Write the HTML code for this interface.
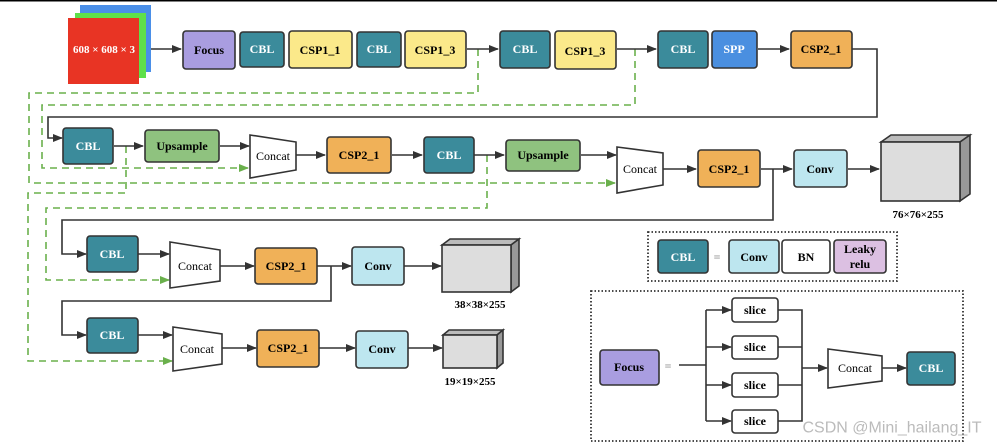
<!DOCTYPE html>
<html><head><meta charset="utf-8"><style>
html,body{margin:0;padding:0;background:#fff;}
svg{display:block;}
text{font-family:"Liberation Serif",serif;font-weight:bold;font-size:12px;text-anchor:middle;dominant-baseline:central;}
.w{fill:#fff}
.n{font-weight:normal}
</style></head><body>
<svg width="997" height="448" viewBox="0 0 997 448" xmlns="http://www.w3.org/2000/svg">
<defs>
<marker id="a" markerWidth="10" markerHeight="8" refX="9" refY="4" orient="auto" markerUnits="userSpaceOnUse"><path d="M0,0 L10,4 L0,8 z" fill="#333"/></marker>
<marker id="g" markerWidth="10" markerHeight="8" refX="9" refY="4" orient="auto" markerUnits="userSpaceOnUse"><path d="M0,0 L10,4 L0,8 z" fill="#6ab04c"/></marker>
</defs>
<line x1="0" y1="0.5" x2="997" y2="0.5" stroke="#000" stroke-width="2"/>
<g fill="none" stroke="#6ab04c" stroke-width="1.6" stroke-dasharray="7,5">
<polyline points="478,49 478,93 29,93 29,183 615,183" marker-end="url(#g)"/>
<polyline points="635,49 635,105 42,105 42,168 248,168" marker-end="url(#g)"/>
<polyline points="126,146 126,193 28,193 28,361 172,361" marker-end="url(#g)"/>
<polyline points="487,155 487,208 46,208 46,280 169,280" marker-end="url(#g)"/>
</g>
<g fill="none" stroke="#333" stroke-width="1.6">
<line x1="151" y1="49" x2="181" y2="49" marker-end="url(#a)"/>
<line x1="467" y1="49" x2="498" y2="49" marker-end="url(#a)"/>
<line x1="617" y1="49" x2="656" y2="49" marker-end="url(#a)"/>
<line x1="758" y1="49" x2="789" y2="49" marker-end="url(#a)"/>
<polyline points="852,49 877,49 877,117 48,117 48,138 62,138" marker-end="url(#a)"/>
<line x1="114" y1="146" x2="143" y2="146" marker-end="url(#a)"/>
<line x1="220" y1="146" x2="249" y2="146" marker-end="url(#a)"/>
<line x1="296" y1="155" x2="325" y2="155" marker-end="url(#a)"/>
<line x1="392" y1="155" x2="422" y2="155" marker-end="url(#a)"/>
<line x1="474" y1="155" x2="504" y2="155" marker-end="url(#a)"/>
<line x1="581" y1="155" x2="616" y2="155" marker-end="url(#a)"/>
<line x1="663" y1="169" x2="696" y2="169" marker-end="url(#a)"/>
<line x1="761" y1="169" x2="792" y2="169" marker-end="url(#a)"/>
<line x1="848" y1="169" x2="879" y2="169" marker-end="url(#a)"/>
<polyline points="773,169 773,220 62,220 62,254 86,254" marker-end="url(#a)"/>
<line x1="138" y1="254" x2="169" y2="254" marker-end="url(#a)"/>
<line x1="220" y1="266" x2="254" y2="266" marker-end="url(#a)"/>
<line x1="317" y1="266" x2="351" y2="266" marker-end="url(#a)"/>
<line x1="404" y1="266" x2="441" y2="266" marker-end="url(#a)"/>
<polyline points="331,266 331,301 62,301 62,335 86,335" marker-end="url(#a)"/>
<line x1="138" y1="335" x2="172" y2="335" marker-end="url(#a)"/>
<line x1="222" y1="348" x2="256" y2="348" marker-end="url(#a)"/>
<line x1="319" y1="348" x2="355" y2="348" marker-end="url(#a)"/>
<line x1="408" y1="348" x2="442" y2="348" marker-end="url(#a)"/>
<line x1="679" y1="365" x2="706" y2="365"/>
<line x1="706" y1="310" x2="706" y2="421"/>
<line x1="706" y1="310" x2="731" y2="310" marker-end="url(#a)"/>
<line x1="706" y1="347" x2="731" y2="347" marker-end="url(#a)"/>
<line x1="706" y1="385" x2="731" y2="385" marker-end="url(#a)"/>
<line x1="706" y1="421" x2="731" y2="421" marker-end="url(#a)"/>
<polyline points="778,310 802,310 802,421 778,421"/>
<line x1="778" y1="347" x2="802" y2="347"/>
<line x1="778" y1="385" x2="802" y2="385"/>
<line x1="802" y1="368" x2="827" y2="368" marker-end="url(#a)"/>
<line x1="882" y1="368" x2="906" y2="368" marker-end="url(#a)"/>
</g>
<rect x="80" y="5" width="71" height="67" fill="#4a8fe8"/>
<rect x="75" y="13" width="71" height="65" fill="#5fe04a"/>
<rect x="68" y="18" width="71" height="66" fill="#e83424"/>
<text x="104" y="50" class="w" style="font-size:11px">608 × 608 × 3</text>
<g stroke="#333" stroke-width="1.6">
<rect x="183" y="31" width="52" height="38" rx="3" fill="#a99de0"/>
<rect x="240" y="32" width="44" height="35" rx="3" fill="#3b8b9b"/>
<rect x="289" y="31" width="63" height="37" rx="3" fill="#fbe98a"/>
<rect x="357" y="32" width="44" height="35" rx="3" fill="#3b8b9b"/>
<rect x="405" y="31" width="61" height="37" rx="3" fill="#fbe98a"/>
<rect x="500" y="31" width="50" height="37" rx="3" fill="#3b8b9b"/>
<rect x="555" y="31" width="61" height="38" rx="3" fill="#fbe98a"/>
<rect x="658" y="31" width="50" height="37" rx="3" fill="#3b8b9b"/>
<rect x="712" y="31" width="45" height="37" rx="3" fill="#4a8fe0"/>
<rect x="791" y="31" width="61" height="37" rx="3" fill="#f0b158"/>
<rect x="63" y="128" width="50" height="36" rx="3" fill="#3b8b9b"/>
<rect x="145" y="130" width="74" height="32" rx="3" fill="#8fc27f"/>
<polygon points="250,135 296,142 296,170 250,178" fill="#fff"/>
<rect x="327" y="137" width="64" height="36" rx="3" fill="#f0b158"/>
<rect x="424" y="137" width="50" height="36" rx="3" fill="#3b8b9b"/>
<rect x="506" y="140" width="74" height="31" rx="3" fill="#8fc27f"/>
<polygon points="617,147 663,153 663,185 617,193" fill="#fff"/>
<rect x="698" y="150" width="62" height="37" rx="3" fill="#f0b158"/>
<rect x="794" y="150" width="53" height="37" rx="3" fill="#bde6ef"/>
<polygon points="881,142 891,135 970,135 960,142" fill="#bbb"/>
<polygon points="960,142 970,135 970,194 960,201" fill="#999"/>
<rect x="881" y="142" width="79" height="59" fill="#ddd"/>
<rect x="87" y="236" width="51" height="36" rx="3" fill="#3b8b9b"/>
<polygon points="170,242 220,250 220,281 170,288" fill="#fff"/>
<rect x="255" y="248" width="62" height="36" rx="3" fill="#f0b158"/>
<rect x="352" y="247" width="52" height="38" rx="3" fill="#bde6ef"/>
<polygon points="442,245 450,239 519,239 511,245" fill="#bbb"/>
<polygon points="511,245 519,239 519,286 511,292" fill="#999"/>
<rect x="442" y="245" width="69" height="47" fill="#ddd"/>
<rect x="87" y="318" width="51" height="35" rx="3" fill="#3b8b9b"/>
<polygon points="173,327 222,334 222,364 173,371" fill="#fff"/>
<rect x="257" y="330" width="62" height="37" rx="3" fill="#f0b158"/>
<rect x="356" y="331" width="52" height="37" rx="3" fill="#bde6ef"/>
<polygon points="443,335 449,330 503,330 497,335" fill="#bbb"/>
<polygon points="497,335 503,330 503,363 497,368" fill="#999"/>
<rect x="443" y="335" width="54" height="33" fill="#ddd"/>
<rect x="658" y="240" width="50" height="33" rx="3" fill="#3b8b9b"/>
<rect x="729" y="240" width="50" height="33" rx="3" fill="#bde6ef"/>
<rect x="782" y="240" width="48" height="33" rx="3" fill="#fff"/>
<rect x="834" y="240" width="52" height="33" rx="3" fill="#dcc0e2"/>
<rect x="600" y="350" width="59" height="35" rx="3" fill="#a99de0"/>
<rect x="732" y="298" width="46" height="24" rx="3" fill="#fff"/>
<rect x="732" y="336" width="46" height="23" rx="3" fill="#fff"/>
<rect x="732" y="373" width="46" height="24" rx="3" fill="#fff"/>
<rect x="732" y="410" width="46" height="23" rx="3" fill="#fff"/>
<polygon points="828,349 882,356 882,381 828,388" fill="#fff"/>
<rect x="907" y="352" width="48" height="33" rx="3" fill="#3b8b9b"/>
</g>
<g fill="none" stroke="#333" stroke-width="1.8" stroke-dasharray="1.5,2">
<rect x="648" y="232" width="249" height="49"/>
<rect x="591" y="291" width="372" height="150"/>
</g>
<text x="209" y="50">Focus</text>
<text x="262" y="49" class="w">CBL</text>
<text x="320" y="50">CSP1_1</text>
<text x="379" y="49" class="w">CBL</text>
<text x="435" y="50">CSP1_3</text>
<text x="525" y="49" class="w">CBL</text>
<text x="585" y="51">CSP1_3</text>
<text x="683" y="49" class="w">CBL</text>
<text x="734" y="49" class="w">SPP</text>
<text x="821" y="49">CSP2_1</text>
<text x="88" y="146" class="w">CBL</text>
<text x="182" y="146">Upsample</text>
<text x="273" y="156" class="n">Concat</text>
<text x="359" y="155">CSP2_1</text>
<text x="449" y="155" class="w">CBL</text>
<text x="543" y="155">Upsample</text>
<text x="640" y="169" class="n">Concat</text>
<text x="729" y="169">CSP2_1</text>
<text x="820" y="169">Conv</text>
<text x="918" y="215" style="font-size:11px">76×76×255</text>
<text x="112" y="254" class="w">CBL</text>
<text x="195" y="266" class="n">Concat</text>
<text x="286" y="266">CSP2_1</text>
<text x="378" y="266">Conv</text>
<text x="480" y="305" style="font-size:11px">38×38×255</text>
<text x="112" y="335" class="w">CBL</text>
<text x="197" y="349" class="n">Concat</text>
<text x="288" y="348">CSP2_1</text>
<text x="382" y="349">Conv</text>
<text x="470" y="382" style="font-size:11px">19×19×255</text>
<text x="683" y="257" class="w">CBL</text>
<text x="717" y="257" style="fill:#999">=</text>
<text x="754" y="257">Conv</text>
<text x="806" y="257">BN</text>
<text x="860" y="249">Leaky</text>
<text x="860" y="264">relu</text>
<text x="629" y="367">Focus</text>
<text x="668" y="366" style="fill:#999">=</text>
<text x="755" y="310">slice</text>
<text x="755" y="347">slice</text>
<text x="755" y="385">slice</text>
<text x="755" y="421">slice</text>
<text x="855" y="368" class="n">Concat</text>
<text x="931" y="368" class="w">CBL</text>
<text x="892" y="428" style="font-family:'Liberation Sans',sans-serif;font-weight:normal;font-size:16px;fill:#bbb">CSDN @Mini_hailang_IT</text>
</svg>
</body></html>
